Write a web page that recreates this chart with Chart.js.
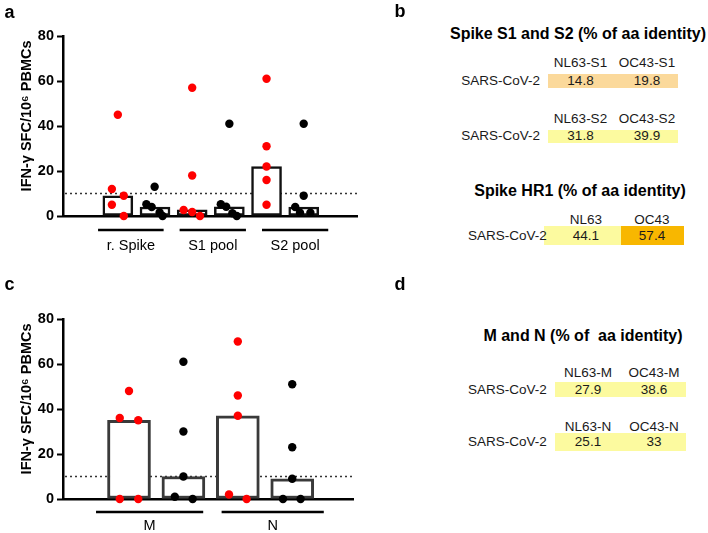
<!DOCTYPE html>
<html lang="en">
<head>
<meta charset="UTF-8">
<title>IFN-γ responses and aa identity</title>
<script src="https://cdn.jsdelivr.net/npm/chart.js@4.4.1/dist/chart.umd.min.js"></script>
<style>
  body { margin: 0; width: 708px; height: 533px; position: relative; background: #fff;
         font-family: Arial, "Liberation Sans", sans-serif; overflow: hidden; }
  canvas { position: absolute; left: 0; }
  .t { position: absolute; line-height: 1; white-space: pre; transform: translate(-50%, -50%);
       color: #1a1a1a; font-size: 13.5px; }
  .r { transform: translate(-100%, -50%); }
  .b { font-weight: bold; color: #000; }
  .cell { position: absolute; }
</style>
</head>
<body>
<canvas id="chartA" width="362" height="265" style="top:0"></canvas>
<canvas id="chartC" width="362" height="268" style="top:265px"></canvas>
<script>
// ---- panel a : spike ----
const spikeGroups = ['r. Spike', 'S1 pool', 'S2 pool'];
const spikeRed = [[12, 5, 45, 9, 0], [2.7, 57, 18, 1.8, 0], [61, 31, 22, 16, 5]];
const spikeBlack = [[5.2, 4, 13, 1.6, 0], [5.2, 4.1, 41, 1.2, 0], [4, 9, 41, 1.5, 1.5]];
// swarm offsets of the dots, in x units
const spikeRedJit = [[-0.08, -0.08, 0, 0.08, 0.08], [-0.115, 0, 0, 0, 0.105], [0, 0, 0, 0, 0]];
const spikeBlackJit = [[-0.116, -0.045, -0.005, 0.062, 0.102], [-0.115, -0.043, 0, 0.04, 0.1], [-0.114, 0, 0, -0.05, 0.09]];

// ---- panel c : M and N ----
const protGroups = ['M', 'N'];
const protRed = [[36, 0, 48, 35, 0], [2, 70, 46, 37, 0]];
const protBlack = [[1, 61, 30, 10, 0], [0, 51, 23, 9, 0]];
const protRedJit = [[-0.085, -0.085, 0, 0.085, 0.085], [-0.081, 0, 0, 0, 0.081]];
const protBlackJit = [[-0.079, 0, 0, 0, 0.085], [-0.085, 0, 0, 0, 0.077]];

const yTicks = [0, 20, 40, 60, 80];
const cutoff = 10;
const yTitle = 'IFN-γ SFC/10⁶ PBMCs';

// ---- panels b, d : % aa identity ----
const rowLabel = 'SARS-CoV-2';
const titleS = 'Spike S1 and S2 (% of aa identity)';
const titleHR1 = 'Spike HR1 (% of aa identity)';
const titleMN = 'M and N (% of  aa identity)';
const s1Heads = ['NL63-S1', 'OC43-S1'];
const s1Vals = [14.8, 19.8];
const s2Heads = ['NL63-S2', 'OC43-S2'];
const s2Vals = [31.8, 39.9];
const hr1Heads = ['NL63', 'OC43'];
const hr1Vals = [44.1, 57.4];
const mHeads = ['NL63-M', 'OC43-M'];
const mVals = [27.9, 38.6];
const nHeads = ['NL63-N', 'OC43-N'];
const nVals = [25.1, 33];

function median(a) {
  const s = [...a].sort((p, q) => p - q);
  return s[Math.floor(s.length / 2)];
}

const decor = {
  id: 'decor',
  beforeDatasetsDraw(chart, args, o) {
    const {ctx, chartArea: ca, scales: {y}} = chart;
    const py = y.getPixelForValue(cutoff);
    ctx.save();
    ctx.strokeStyle = '#333';
    ctx.lineWidth = 1.5;
    ctx.setLineDash([2, 3]);
    ctx.beginPath();
    ctx.moveTo(ca.left + 2, py);
    ctx.lineTo(ca.right, py);
    ctx.stroke();
    ctx.restore();
  },
  afterDraw(chart, args, o) {
    const {ctx, chartArea: ca, scales: {x}} = chart;
    ctx.save();
    ctx.strokeStyle = '#000';
    ctx.lineWidth = 2.5;
    ctx.fillStyle = '#000';
    ctx.font = '14.5px Arial, "Liberation Sans"';
    ctx.textAlign = 'center';
    ctx.textBaseline = 'middle';
    o.brackets.forEach((b, i) => {
      const x0 = x.getPixelForValue(b[0]), x1 = x.getPixelForValue(b[1]);
      ctx.beginPath();
      ctx.moveTo(x0, ca.bottom + o.lineGap);
      ctx.lineTo(x1, ca.bottom + o.lineGap);
      ctx.stroke();
      ctx.fillText(o.labels[i], (x0 + x1) / 2, ca.bottom + o.labelGap);
    });
    ctx.restore();
  }
};

function makeChart(id, groups, red, black, redJit, blackJit, L) {
  const bars = [];
  groups.forEach((g, i) => {
    bars.push({x: i + 1 - L.off, y: median(red[i])});
    bars.push({x: i + 1 + L.off, y: median(black[i])});
  });
  const dots = (vals, jit, side) =>
    vals.flatMap((v, i) => v.map((y, j) => ({x: i + 1 + side * L.off + jit[i][j], y})));
  return new Chart(document.getElementById(id), {
    type: 'bar',
    data: {
      datasets: [
        { type: 'scatter', data: dots(red, redJit, -1), backgroundColor: '#ff0000',
          pointRadius: 4.2, pointBorderWidth: 0, clip: false, order: 1 },
        { type: 'scatter', data: dots(black, blackJit, 1), backgroundColor: '#000',
          pointRadius: 4.2, pointBorderWidth: 0, clip: false, order: 1 },
        { data: bars, backgroundColor: '#fff', borderColor: L.barColor, borderWidth: L.barBorder,
          borderSkipped: false, barThickness: L.barW, order: 2 }
      ]
    },
    options: {
      responsive: false,
      animation: false,
      devicePixelRatio: 1,
      layout: {padding: {top: L.top, right: L.right, left: 0, bottom: 0}},
      plugins: {
        legend: {display: false},
        tooltip: {enabled: false},
        decor: {brackets: L.brackets, labels: groups, lineGap: L.lineGap, labelGap: L.labelGap}
      },
      scales: {
        x: {
          type: 'linear', min: L.xMin, max: L.xMax,
          grid: {display: false}, ticks: {display: false},
          border: {color: '#000', width: 2.5},
          afterFit: s => { s.height = L.xH; }
        },
        y: {
          min: 0, max: 80,
          afterBuildTicks: s => { s.ticks = yTicks.map(v => ({value: v})); },
          ticks: {font: {family: 'Arial', weight: 'bold', size: 14.5}, color: '#000', padding: 3},
          grid: {drawOnChartArea: false, tickLength: 6, tickColor: '#000', tickWidth: 2},
          border: {color: '#000', width: 2.5},
          title: {display: true, text: '     ' + yTitle, color: '#000',
                  font: {family: 'Arial', weight: 'bold', size: 14.5}, padding: {top: 18, bottom: 0}},
          afterFit: s => { s.width = 63; }
        }
      }
    },
    plugins: [decor]
  });
}

makeChart('chartA', spikeGroups, spikeRed, spikeBlack, spikeRedJit, spikeBlackJit, {
  top: 36, right: 4, xH: 49, xMin: 0.409, xMax: 3.581, off: 0.25, barW: 30,
  barColor: '#111', barBorder: 2.5, lineGap: 14, labelGap: 30,
  brackets: [[0.484, 1.366], [1.581, 2.473], [2.689, 3.58]]
});
makeChart('chartC', protGroups, protRed, protBlack, protRedJit, protBlackJit, {
  top: 54, right: 9, xH: 34, xMin: 0.41, xMax: 2.542, off: 0.25, barW: 43,
  barColor: '#3a3a3a', barBorder: 3, lineGap: 13, labelGap: 27,
  brackets: [[0.447, 1.432], [1.601, 2.54]]
});

// ---- identity tables ----
function put(text, x, y, cls, size) {
  const d = document.createElement('div');
  d.className = 't ' + (cls || '');
  d.textContent = text;
  d.style.left = x + 'px';
  d.style.top = y + 'px';
  if (size) d.style.fontSize = size + 'px';
  document.body.appendChild(d);
}
function cell(x0, x1, y0, y1, fill) {
  const d = document.createElement('div');
  d.className = 'cell';
  Object.assign(d.style, {left: x0 + 'px', top: y0 + 'px', width: (x1 - x0) + 'px',
                          height: (y1 - y0) + 'px', background: fill});
  document.body.appendChild(d);
}

const lightOrange = '#fbd99b', yellow = '#fcfa9f', orange = '#f8b700';
const tableLayout = [
  {heads: s1Heads, vals: s1Vals, colX: [580.5, 647], headY: 63.3, cellY: [74, 88.3],
   edges: [547.7, 613, 678.3], fills: [lightOrange, lightOrange], labelX: 540},
  {heads: s2Heads, vals: s2Vals, colX: [580.5, 647], headY: 118.7, cellY: [129.5, 143.3],
   edges: [547.7, 613, 678.3], fills: [yellow, yellow], labelX: 540},
  {heads: hr1Heads, vals: hr1Vals, colX: [585.8, 652], headY: 219.5, cellY: [226, 245],
   edges: [544, 620.7, 684.3], fills: [yellow, orange], labelX: 546.7},
  {heads: mHeads, vals: mVals, colX: [588, 654], headY: 373.3, cellY: [381.7, 397.3],
   edges: [555, 620, 685.7], fills: [yellow, yellow], labelX: 546.7},
  {heads: nHeads, vals: nVals, colX: [588, 654], headY: 426.7, cellY: [433.3, 450.7],
   edges: [555, 620, 685.7], fills: [yellow, yellow], labelX: 546.7}
];
tableLayout.forEach(t => {
  const cy = (t.cellY[0] + t.cellY[1]) / 2;
  t.fills.forEach((f, i) => cell(t.edges[i], t.edges[i + 1], t.cellY[0], t.cellY[1], f));
  t.heads.forEach((h, i) => put(h, t.colX[i], t.headY));
  t.vals.forEach((v, i) => put(String(v), t.colX[i], cy));
  put(rowLabel, t.labelX, cy, 'r');
});
put(titleS, 578, 34, 'b', 16);
put(titleHR1, 580, 191, 'b', 16);
put(titleMN, 583, 336, 'b', 16);

// panel letters
put('a', 9.5, 12, 'b', 18);
put('b', 400, 10.5, 'b', 18);
put('c', 9.5, 284, 'b', 18);
put('d', 400, 284, 'b', 18);
</script>
</body>
</html>
